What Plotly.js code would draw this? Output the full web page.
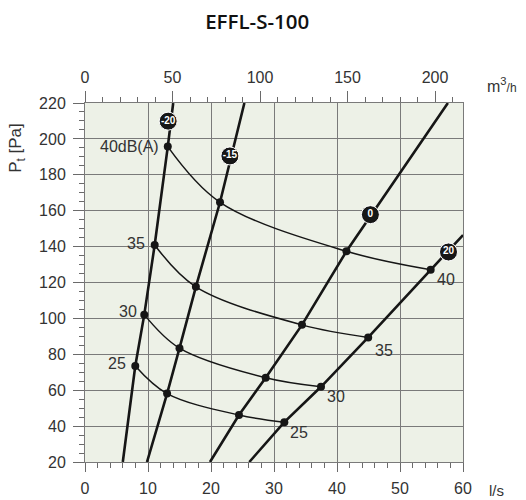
<!DOCTYPE html>
<html>
<head>
<meta charset="utf-8">
<script src="https://cdn.plot.ly/plotly-3.0.1.min.js"></script>
<style>
html,body{margin:0;padding:0;background:#fff;}
#chart{width:526px;height:500px;}
</style>
</head>
<body>
<div id="chart"></div>
<script>
// ---- data (flow q in l/s, total pressure Pt in Pa) ----
const dbLevels = [25, 30, 35, 40];
const seriesNames = ['-20', '-15', '0', '20'];

// dB intersection points on each damper line (order: 25, 30, 35, 40 dB)
const q_m20 = [7.98, 9.41, 11.06, 13.14];
const p_m20 = [73.5, 102.1, 140.9, 195.7];
const q_m15 = [13.03, 15.0, 17.6, 21.43];
const p_m15 = [58.1, 83.4, 117.6, 164.7];
const q_0 = [24.44, 28.68, 34.44, 41.5];
const p_0 = [46.2, 66.9, 96.4, 137.4];
const q_20 = [31.64, 37.46, 44.95, 54.87];
const p_20 = [42.2, 61.9, 89.4, 127.1];

// line ends
const lineStartQ = [6.0, 9.84, 19.84, 26.08];
const lineStartP = [20, 20, 20, 20];
const lineEndQ = [14.0, 25.3, 57.6, 60];
const lineEndP = [220, 220, 220, 146.4];

// series label badges
const badgeQ = [13.2, 23.0, 45.3, 57.7];
const badgeP = [209.9, 190.5, 157.8, 137.0];

// dB label texts and positions
const leftLabelText = ['25', '30', '35', '40dB(A)'];
const leftLabelQ = [6.9, 8.5, 9.8, 12.0];
const leftLabelP = [75, 104, 142, 196];
const rightLabelText = ['25', '30', '35', '40'];
const rightLabelQ = [32.3, 38.1, 45.7, 55.5];
const rightLabelP = [36.3, 56.3, 82.2, 121.7];

// axes
const xTicks = [0, 10, 20, 30, 40, 50, 60];
const yTicks = [20, 40, 60, 80, 100, 120, 140, 160, 180, 200, 220];
const topTicks = [0, 50, 100, 150, 200];
const lsToM3h = 3.6;

// ---- build traces ----
const qs = [q_m20, q_m15, q_0, q_20];
const ps = [p_m20, p_m15, p_0, p_20];
const traces = [];
const ink = '#161616';
const txt = '#333333';
const FONT = 'Liberation Sans, Arial, sans-serif';

// damper lines
for (let s = 0; s < 4; s++) {
  traces.push({
    x: [lineStartQ[s]].concat(qs[s], [lineEndQ[s]]),
    y: [lineStartP[s]].concat(ps[s], [lineEndP[s]]),
    mode: 'lines', line: {color: ink, width: 2.6},
    hoverinfo: 'skip', showlegend: false
  });
}
// dB curves
for (let i = 0; i < dbLevels.length; i++) {
  traces.push({
    x: qs.map(a => a[i]), y: ps.map(a => a[i]),
    mode: 'lines', line: {color: ink, width: 1.5, shape: 'spline', smoothing: 1.0},
    hoverinfo: 'skip', showlegend: false
  });
}
// intersection dots
traces.push({
  x: [].concat(...qs), y: [].concat(...ps),
  mode: 'markers', marker: {color: ink, size: 8},
  hoverinfo: 'skip', showlegend: false
});
// badges
traces.push({
  x: badgeQ, y: badgeP, text: seriesNames,
  mode: 'markers+text', textposition: 'middle center',
  marker: {color: ink, size: 18, line: {color: '#ffffff', width: 1}},
  textfont: {color: '#ffffff', size: 10, family: 'Liberation Sans Narrow, Liberation Sans, Arial, sans-serif', weight: 700},
  cliponaxis: false, hoverinfo: 'skip', showlegend: false
});
// invisible trace for top axis (m3/h)
traces.push({
  x: [0, xTicks[xTicks.length - 1] * lsToM3h], y: [yTicks[0], yTicks[0]],
  xaxis: 'x2', yaxis: 'y', mode: 'markers', marker: {opacity: 0},
  hoverinfo: 'skip', showlegend: false
});

// ---- annotations ----
const annotations = [];
for (let i = 0; i < leftLabelText.length; i++) {
  annotations.push({x: leftLabelQ[i], y: leftLabelP[i], text: leftLabelText[i],
    xanchor: 'right', yanchor: 'middle', showarrow: false,
    font: {family: FONT, size: 16, color: txt}});
}
for (let i = 0; i < rightLabelText.length; i++) {
  annotations.push({x: rightLabelQ[i], y: rightLabelP[i], text: rightLabelText[i],
    xanchor: 'left', yanchor: 'middle', showarrow: false,
    font: {family: FONT, size: 16, color: txt}});
}
annotations.push({xref: 'paper', yref: 'paper', x: 1.058, y: 1.05, xanchor: 'left', yanchor: 'middle',
  text: 'm<sup>3</sup><span style="font-size:12px">/h</span>', showarrow: false,
  font: {family: FONT, size: 16, color: txt}});
annotations.push({xref: 'paper', yref: 'paper', x: 1.063, y: -0.079, xanchor: 'left', yanchor: 'middle',
  text: 'l/s', showarrow: false, font: {family: FONT, size: 15, color: txt}});
annotations.push({xref: 'paper', yref: 'paper', x: -0.18, y: 0.875, xanchor: 'center', yanchor: 'middle',
  text: 'P<sub>t</sub> [Pa]', textangle: -90, showarrow: false,
  font: {family: FONT, size: 17, color: txt}});

const gridC = '#7a7a7a';
const tickC = '#6a6a6a';

const layout = {
  width: 526, height: 500,
  margin: {l: 85, r: 63, t: 103, b: 38, pad: 0},
  paper_bgcolor: '#ffffff',
  plot_bgcolor: '#edf1e7',
  title: {text: 'EFFL-S-100', x: 0.489, xref: 'container', xanchor: 'center',
    y: 0.956, yref: 'container', yanchor: 'middle',
    font: {family: 'Open Sans, Noto Sans, sans-serif', size: 20.5, weight: 600, color: '#111111'}},
  xaxis: {
    range: [0, 60], tickvals: xTicks, ticktext: xTicks.map(String),
    showgrid: true, gridcolor: gridC, gridwidth: 1, zeroline: false,
    showline: true, linecolor: gridC, linewidth: 1, mirror: false,
    ticks: 'outside', ticklen: 9, tickcolor: tickC, tickwidth: 1,
    minor: {dtick: 2, ticks: 'outside', ticklen: 5, tickcolor: tickC, showgrid: false},
    tickfont: {family: FONT, size: 16, color: txt}, ticklabelstandoff: 3,
    fixedrange: true
  },
  xaxis2: {
    overlaying: 'x', side: 'top', anchor: 'y',
    range: [0, 60 * lsToM3h], tickvals: topTicks, ticktext: topTicks.map(String),
    showgrid: false, zeroline: false, showline: true, linecolor: gridC, linewidth: 1,
    ticks: 'outside', ticklen: 11, tickcolor: tickC, tickwidth: 1,
    minor: {dtick: 10, ticks: 'outside', ticklen: 5, tickcolor: tickC, showgrid: false},
    tickfont: {family: FONT, size: 16, color: txt}, ticklabelstandoff: 2,
    fixedrange: true
  },
  yaxis: {
    range: [20, 220], tickvals: yTicks, ticktext: yTicks.map(String),
    showgrid: true, gridcolor: gridC, gridwidth: 1, zeroline: false,
    showline: true, linecolor: gridC, linewidth: 1, mirror: true,
    ticks: 'outside', ticklen: 11, tickcolor: tickC, tickwidth: 1,
    minor: {dtick: 5, ticks: 'outside', ticklen: 5, tickcolor: tickC, showgrid: false},
    tickfont: {family: FONT, size: 16, color: txt}, ticklabelstandoff: 4,
    fixedrange: true
  },
  annotations: annotations,
  showlegend: false
};

Plotly.newPlot('chart', traces, layout, {displayModeBar: false, staticPlot: true});
</script>
</body>
</html>
